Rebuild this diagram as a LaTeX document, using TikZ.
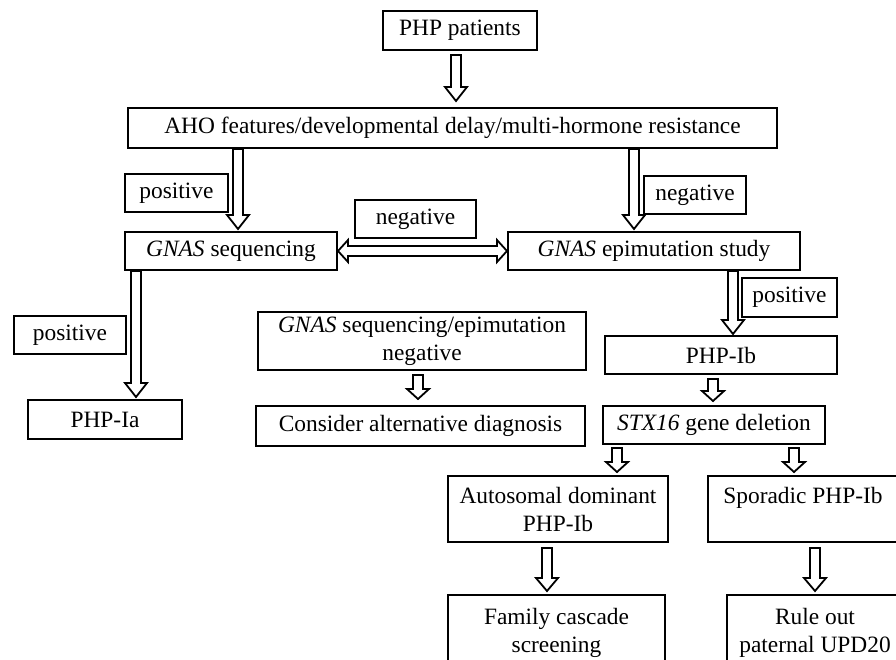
\documentclass[tikz,border=0pt]{standalone}
\usepackage{fontspec}
\setmainfont{Liberation Serif}
\usetikzlibrary{calc}

\newcommand{\downblock}[4][14pt]{%
  \draw[blockarrow] let \p1=(#3), \p2=(#4), \p3=(#2,0) in
    (\x3-5pt,\y1) -- (\x3-5pt,\y2+#1) -- (\x3-11pt,\y2+#1) -- (\x3,\y2)
    -- (\x3+11pt,\y2+#1) -- (\x3+5pt,\y2+#1) -- (\x3+5pt,\y1) -- cycle;}
\newcommand{\sideblock}[2]{%
  \draw[blockarrow] let \p1=(#1), \p2=(#2) in
    (\x1,\y1) -- (\x1+10pt,\y1+11pt) -- (\x1+10pt,\y1+5pt) -- (\x2-10pt,\y1+5pt)
    -- (\x2-10pt,\y1+11pt) -- (\x2,\y1) -- (\x2-10pt,\y1-11pt) -- (\x2-10pt,\y1-5pt)
    -- (\x1+10pt,\y1-5pt) -- (\x1+10pt,\y1-11pt) -- cycle;}

\begin{document}
\begin{tikzpicture}[x=1pt,y=-1pt,
    font=\fontsize{23.4}{28}\selectfont,
    box/.style={draw,line width=2pt,inner sep=0pt,minimum height=38pt,align=center},
    blockarrow/.style={draw,fill=white,line width=1.8pt,line join=miter}]
  \clip (0,0) rectangle (896,660);
  \node[box,minimum width=154pt,minimum height=39pt] (php) at (460,30.5) {PHP patients};
  \node[box,minimum width=649pt,minimum height=40pt] (aho) at (452.5,128)
    {AHO features/developmental delay/multi-hormone resistance};
  \node[box,minimum width=103pt] (posa) at (176.5,193) {positive};
  \node[box,minimum width=102pt] (nega) at (695,195) {negative};
  \node[box,minimum width=212pt] (gseq) at (231,251) {\textit{GNAS} sequencing};
  \node[box,minimum width=121pt] (negb) at (415.5,219) {negative};
  \node[box,minimum width=292pt] (epi) at (654,251) {\textit{GNAS} epimutation study};
  \node[box,minimum width=112pt] (posb) at (70,335) {positive};
  \node[box,minimum width=154pt,minimum height=39pt] (phpia) at (105,419.5) {PHP-Ia};
  \node[box,minimum width=328pt,minimum height=58pt] (both) at (422,341)
    {\textit{GNAS} sequencing/epimutation\\negative};
  \node[box,minimum width=329pt,minimum height=40pt] (alt) at (420.5,426) {Consider alternative diagnosis};
  \node[box,minimum width=95pt,minimum height=39pt] (posc) at (789.5,297.5) {positive};
  \node[box,minimum width=232pt] (phpib) at (721,355) {PHP-Ib};
  \node[box,minimum width=222pt] (stx) at (714,425) {\textit{STX16} gene deletion};
  \node[box,minimum width=220pt,minimum height=66pt] (auto) at (558,509)
    {Autosomal dominant\\PHP-Ib};
  \node[box,minimum width=190pt,minimum height=66pt,text depth=28pt] (spor) at (803,509)
    {Sporadic PHP-Ib};
  \node[box,minimum width=217pt,minimum height=75pt] (family) at (556.5,632.5)
    {Family cascade\\screening};
  \node[box,minimum width=176pt,minimum height=75pt] (rule) at (815,632.5)
    {Rule out\\paternal UPD20};

  \downblock{456}{[yshift=-4pt]php.south}{[yshift=6pt]aho.north}
  \downblock{238}{aho.south}{[yshift=2pt]gseq.north}
  \downblock{634}{aho.south}{[yshift=2pt]epi.north}
  \sideblock{gseq.east}{epi.west}
  \downblock{136}{gseq.south}{[yshift=2pt]phpia.north}
  \downblock[10pt]{418}{[yshift=-4pt]both.south}{[yshift=6pt]alt.north}
  \downblock{733}{epi.south}{[yshift=1pt]phpib.north}
  \downblock[10pt]{713}{[yshift=-4pt]phpib.south}{[yshift=4pt]stx.north}
  \downblock[10pt]{617}{[yshift=-3pt]stx.south}{[yshift=3pt]auto.north}
  \downblock[10pt]{794}{[yshift=-3pt]stx.south}{[yshift=3pt]spor.north}
  \downblock[13pt]{547}{[yshift=-5pt]auto.south}{[yshift=3pt]family.north}
  \downblock[13pt]{815}{[yshift=-5pt]spor.south}{[yshift=3pt]rule.north}
\end{tikzpicture}
\end{document}
